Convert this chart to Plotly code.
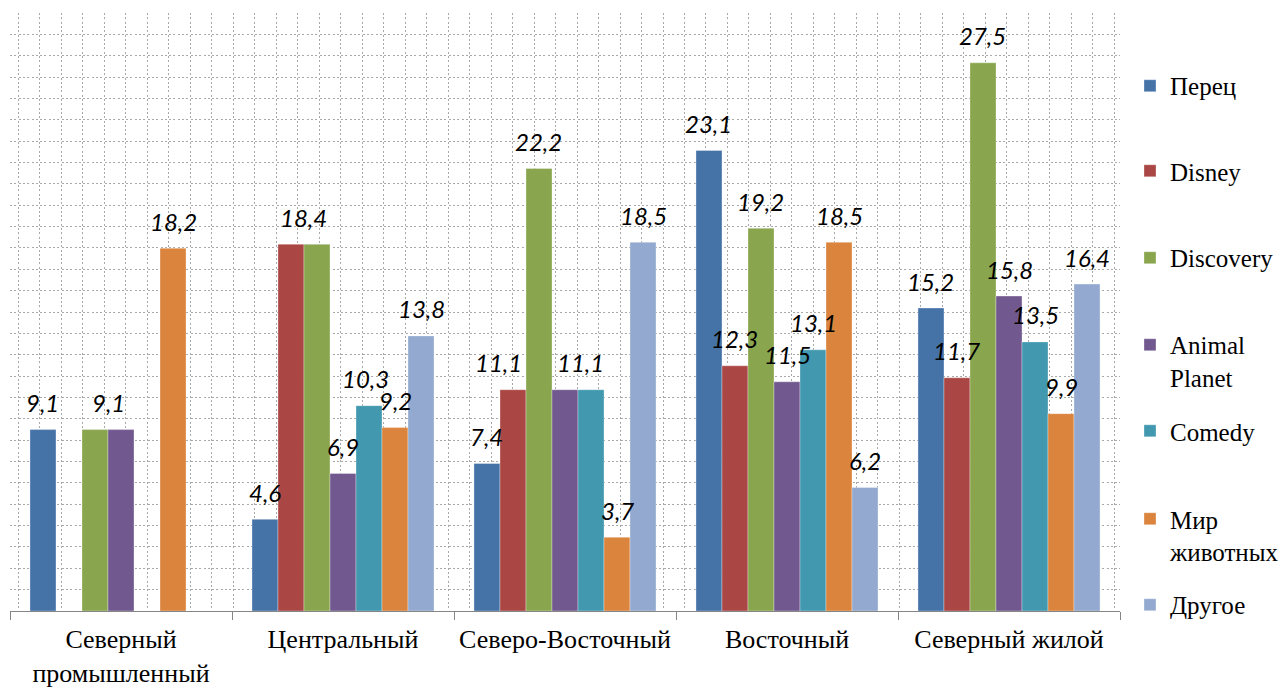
import plotly.graph_objects as go

# Districts (x categories) and their tick labels
categories = ["Северный промышленный", "Центральный", "Северо-Восточный", "Восточный", "Северный жилой"]
category_ticktext = ["Северный<br>промышленный", "Центральный", "Северо-Восточный", "Восточный", "Северный жилой"]

# Channel shares by district, %
series_names = ["Перец", "Disney", "Discovery", "Animal<br>Planet", "Comedy", "Мир<br>животных", "Другое"]
perets = [9.1, 4.6, 7.4, 23.1, 15.2]
disney = [None, 18.4, 11.1, 12.3, 11.7]
discovery = [9.1, 18.4, 22.2, 19.2, 27.5]
animal_planet = [9.1, 6.9, 11.1, 11.5, 15.8]
comedy = [None, 10.3, 11.1, 13.1, 13.5]
mir_zhivotnykh = [18.2, 9.2, 3.7, 18.5, 9.9]
drugoe = [None, 13.8, 18.5, 6.2, 16.4]

series_values = [perets, disney, discovery, animal_planet, comedy, mir_zhivotnykh, drugoe]
colors = ["#4572A7", "#AA4643", "#89A54E", "#71588F", "#4198AF", "#DB843D", "#93A9CF"]

# value-label tweaks: (district, series) -> horizontal shift in bar slots; None = label shared with neighbour
label_shift = {(0, 2): 0.5, (0, 3): None, (1, 1): 0.5, (1, 2): None, (1, 4): -0.12,
               (2, 1): -0.55, (2, 3): 0.6, (2, 4): None}

SERIF = "'Liberation Serif', 'DejaVu Serif', serif"
BARGAP = 0.18
n_series = len(series_names)
slot = (1 - BARGAP) / n_series

fig = go.Figure()

# invisible trace carrying the vertical graph-paper grid axis
fig.add_trace(go.Scatter(x=[None], y=[None], xaxis="x2", showlegend=False, hoverinfo="skip"))

legend_y = [0.9164, 0.7742, 0.6288, 0.4833, 0.3394, 0.1923, 0.0485]
for si, (name, vals, col) in enumerate(zip(series_names, series_values, colors)):
    lid = "legend" if si == 0 else f"legend{si + 1}"
    fig.add_trace(go.Bar(
        x=categories, y=vals, name=name, legend=lid,
        marker=dict(color=col, line=dict(color="rgba(255,255,255,0.55)", width=0.6)),
    ))

annotations = []
for si, vals in enumerate(series_values):
    for ci, v in enumerate(vals):
        if v is None:
            continue
        shift = label_shift.get((ci, si), 0.0)
        if shift is None:
            continue
        xpos = ci + (si - (n_series - 1) / 2 + shift) * slot
        annotations.append(dict(
            x=xpos, y=v, xref="x", yref="y", text=f"{v:.1f}".replace(".", ","),
            showarrow=False, yanchor="middle", yshift=27,
            font=dict(family="Lato", size=24, color="black", style="italic"),
        ))

legend_common = dict(
    x=1.009, xanchor="left", yanchor="top", valign="top",
    font=dict(family=SERIF, size=25, color="black"),
    bgcolor="rgba(0,0,0,0)", itemclick=False, itemdoubleclick=False,
)
layout_legends = {}
for i, ly in enumerate(legend_y):
    key = "legend" if i == 0 else f"legend{i + 1}"
    layout_legends[key] = dict(legend_common, y=ly)

fig.update_layout(
    width=1285, height=689,
    margin=dict(l=10, r=165, t=13, b=78, autoexpand=False),
    paper_bgcolor="white", plot_bgcolor="white",
    barmode="group", bargap=BARGAP, bargroupgap=0,
    showlegend=True,
    annotations=annotations,
    xaxis=dict(
        type="category", categoryorder="array", categoryarray=categories,
        tickmode="array", tickvals=categories, ticktext=category_ticktext,
        tickson="boundaries", ticks="outside", ticklen=8, tickcolor="#868686",
        showline=True, linecolor="#868686", linewidth=1, automargin=False,
        showgrid=False, range=[-0.5, 4.5], ticklabelstandoff=5,
        tickfont=dict(family=SERIF, size=26, color="black"),
    ),
    xaxis2=dict(
        overlaying="x", anchor="y", range=[10, 1120], showticklabels=False, ticks="",
        tick0=18.3, dtick=21.49, showgrid=True, gridcolor="#a8a8a8", gridwidth=1,
        griddash="2px,2.3px", zeroline=False, showline=False, fixedrange=True,
        automargin=False,
    ),
    yaxis=dict(
        range=[0, 30], tick0=0, dtick=30 / 28, showticklabels=False, ticks="",
        showgrid=True, gridcolor="#a8a8a8", gridwidth=1, griddash="2px,2.3px",
        zeroline=False, showline=False, automargin=False,
    ),
    **layout_legends,
)

fig.write_html("out.html")
